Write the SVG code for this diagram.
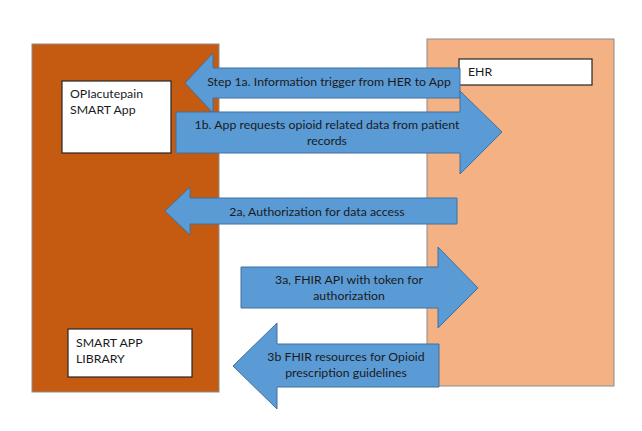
<svg xmlns="http://www.w3.org/2000/svg" width="642" height="431" viewBox="0 0 642 431">
<style>
.t{font-family:Lato,"Noto Sans",sans-serif;font-size:12.3px;fill:#1a1a1a}
.m{text-anchor:middle}
.arrow{fill:#5B9BD5;stroke:#41719C;stroke-width:1}
.box{fill:#ffffff;stroke:#262626;stroke-width:1.2}
</style>
<rect width="642" height="431" fill="#ffffff"/>
<g id="opi-app-container">
<rect x="32" y="44" width="187" height="348" fill="#C55A11" stroke="#8C8C8C" stroke-width="1"/>
</g>
<g id="ehr-container">
<rect x="427" y="39" width="187" height="347" fill="#F4B183" stroke="#8C8C8C" stroke-width="1"/>
</g>
<g id="opiacutepain-app">
<rect class="box" x="62" y="81" width="109" height="72"/>
<text class="t" x="70" y="98">OPIacutepain</text>
<text class="t" x="70" y="114">SMART App</text>
</g>
<g id="ehr">
<rect class="box" x="459" y="59" width="133" height="26"/>
<text class="t" x="468" y="76">EHR</text>
</g>
<g id="smart-app-library">
<rect class="box" x="68" y="329" width="124" height="48"/>
<text class="t" x="76" y="347">SMART APP</text>
<text class="t" x="76" y="363">LIBRARY</text>
</g>
<g id="connectors">
<g id="step1a">
<polygon class="arrow" points="185,83 213,53 213,68 460,68 460,98 213,98 213,113"/>
<text class="t m" x="329" y="86">Step 1a. Information trigger from HER to App</text>
</g>
<g id="step1b">
<polygon class="arrow" points="176,112 460,112 460,91 502,132 460,174 460,153 176,153"/>
<text class="t m" x="327" y="129">1b. App requests opioid related data from patient</text>
<text class="t m" x="327" y="145">records</text>
</g>
<g id="step2a">
<polygon class="arrow" points="165,211 190,187 190,198 457,198 457,224 190,224 190,235"/>
<text class="t m" x="317" y="216">2a, Authorization for data access</text>
</g>
<g id="step3a">
<polygon class="arrow" points="241,267 438,267 438,247 478,288 438,328 438,308 241,308"/>
<text class="t m" x="349" y="284">3a, FHIR API with token for</text>
<text class="t m" x="349" y="300">authorization</text>
</g>
<g id="step3b">
<polygon class="arrow" points="233,366 277,323 277,344 439,344 439,387 277,387 277,409"/>
<text class="t m" x="346" y="361">3b FHIR resources for Opioid</text>
<text class="t m" x="346" y="377">prescription guidelines</text>
</g>
</g>
</svg>
